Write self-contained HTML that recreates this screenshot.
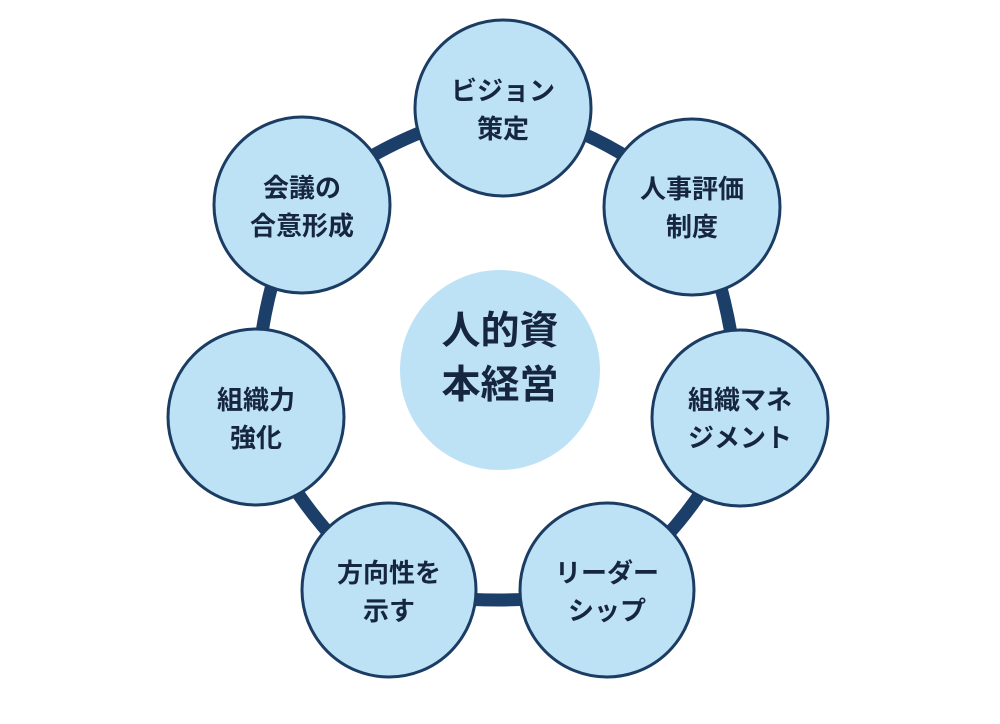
<!DOCTYPE html>
<html><head><meta charset="utf-8"><style>
html,body{margin:0;padding:0;background:#fff;}
svg{display:block}
text{font-family:"Liberation Sans","Noto Sans CJK JP",sans-serif;font-weight:700;fill:#17263f;text-anchor:middle}
</style></head><body>
<svg width="1000" height="724" viewBox="0 0 1000 724" xmlns="http://www.w3.org/2000/svg">
<path d="M503,108 Q610,130 692,207 Q735,300 740,418 Q700,520 607,590 Q498,610 389,590 Q300,520 256,417 Q255,300 302,205 Q390,130 503,108 Z" fill="none" stroke="#1c3f6a" stroke-width="13"/>
<circle cx="500" cy="370" r="100" fill="#bde2f5"/>
<text x="500" y="344" font-size="39">人的資</text>
<text x="500" y="398" font-size="39">本経営</text>
<g fill="#bde2f5" stroke="#1b3c63" stroke-width="3">
<circle cx="503" cy="108" r="88"/>
<circle cx="692" cy="207" r="88"/>
<circle cx="740" cy="418" r="88"/>
<circle cx="607" cy="590" r="87"/>
<circle cx="389" cy="590" r="87"/>
<circle cx="256" cy="417" r="88"/>
<circle cx="302" cy="205" r="88"/>
</g>
<g font-size="26">
<text x="503" y="100">ビジョン</text><text x="503" y="138">策定</text>
<text x="692" y="198">人事評価</text><text x="692" y="236">制度</text>
<text x="740" y="409">組織マネ</text><text x="740" y="447">ジメント</text>
<text x="607" y="582">リーダー</text><text x="607" y="620">シップ</text>
<text x="389" y="582">方向性を</text><text x="389" y="620">示す</text>
<text x="256" y="409">組織力</text><text x="256" y="447">強化</text>
<text x="302" y="197">会議の</text><text x="302" y="235">合意形成</text>
</g>
</svg>
</body></html>
